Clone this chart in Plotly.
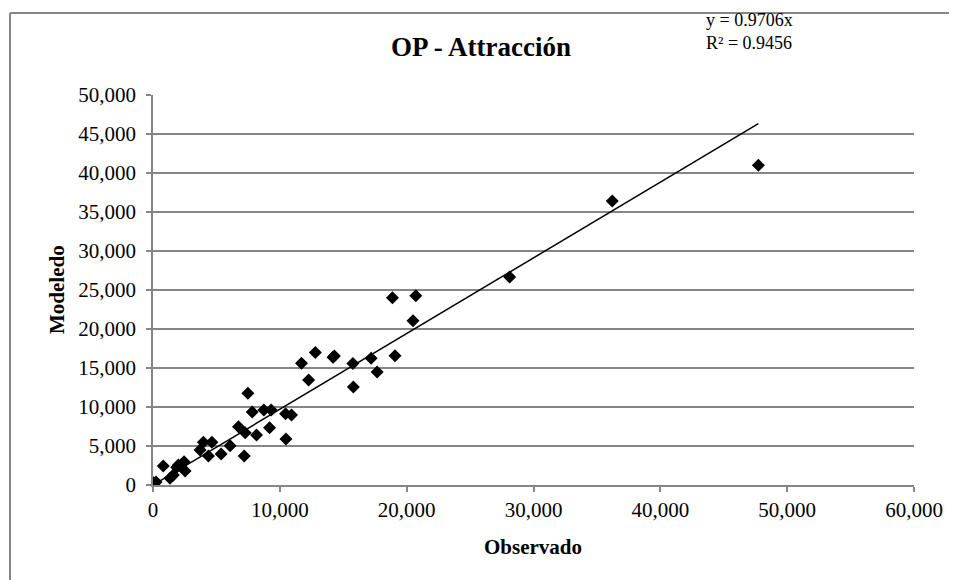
import plotly.graph_objects as go

observado = [50, 120, 240, 810, 1340, 1600, 1870, 2000, 2450, 2530, 3710, 3970, 4640, 4370,
             5370, 6080, 6740, 7270, 7190, 7480, 7820, 8160, 8740, 9190, 9320, 10450, 10480,
             10920, 11710, 12270, 12800, 14190, 14300, 15760, 15800, 17200, 17670, 19080,
             18880, 20720, 20500, 28120, 36210, 47730]
modeledo = [300, 190, 380, 2440, 860, 1280, 2270, 2560, 2990, 1800, 4490, 5470, 5470, 3720,
            3970, 5040, 7470, 6700, 3720, 11760, 9360, 6410, 9620, 7350, 9620, 9140, 5900,
            8970, 15600, 13460, 16990, 16370, 16540, 15580, 12560, 16260, 14490, 16580,
            24000, 24270, 21060, 26670, 36410, 40990]
slope = 0.9706
r2 = 0.9456

xmax = max(observado)
trend_x = [0, xmax]
trend_y = [slope * v for v in trend_x]

OFF = 8  # page body margin
W, H = 957 - OFF, 580 - OFF
# screen-space plot box
X0, X1, Y0, Y1 = 153, 914, 95, 485
ml, mr, mt, mb = X0 - OFF, W - (X1 - OFF), Y0 - OFF, H - (Y1 - OFF)
pw, ph = X1 - X0, Y1 - Y0

def px(x):
    return (x - X0) / pw

def py(y):
    return (Y1 - y) / ph

grey = "#868686"
font = "Liberation Serif, Times New Roman, serif"

fig = go.Figure()
fig.add_trace(go.Scatter(x=observado, y=modeledo, mode="markers",
                         marker=dict(symbol="diamond", size=10, color="black"),
                         showlegend=False, hoverinfo="x+y"))
fig.add_trace(go.Scatter(x=trend_x, y=trend_y, mode="lines",
                         line=dict(color="black", width=1.5), showlegend=False))

border = dict(color=grey, width=2)

fig.update_layout(
    width=W, height=H,
    margin=dict(l=ml, r=mr, t=mt, b=mb, pad=0),
    paper_bgcolor="white", plot_bgcolor="white",
    font=dict(family=font, size=20, color="black"),
    xaxis=dict(range=[0, 60000], dtick=10000, tickformat=",d", showgrid=False,
               zeroline=False, showline=True, linecolor=grey, linewidth=1.5,
               ticks="outside", ticklen=5, tickcolor=grey, tickwidth=1.5,
               tickfont=dict(size=21)),
    yaxis=dict(range=[0, 50000], dtick=5000, tickformat=",d", showgrid=True,
               gridcolor=grey, gridwidth=1.5, zeroline=False, showline=True,
               linecolor=grey, linewidth=1.5, ticks="outside", ticklen=5,
               tickcolor=grey, tickwidth=1.5, tickfont=dict(size=21),
               ticklabelstandoff=6),
    shapes=[
        dict(type="line", xref="paper", yref="paper",
             x0=px(10), x1=px(10), y0=py(13), y1=py(590), line=border),
        dict(type="line", xref="paper", yref="paper",
             x0=px(10), x1=px(957), y0=py(13), y1=py(13), line=border),
    ],
    annotations=[
        dict(text="<b>OP - Attracción</b>", xref="paper", yref="paper",
             x=px(481), y=py(47), showarrow=False, font=dict(size=27),
             xanchor="center", yanchor="middle"),
        dict(text=f"y = {slope}x<br>R² = {r2}", xref="paper", yref="paper",
             x=px(704), y=py(32), showarrow=False, font=dict(size=18),
             xanchor="left", yanchor="middle", align="left"),
        dict(text="<b>Observado</b>", xref="paper", yref="paper",
             x=px(533), y=py(547), showarrow=False, font=dict(size=21),
             xanchor="center", yanchor="middle"),
        dict(text="<b>Modeledo</b>", xref="paper", yref="paper",
             x=px(57), y=py(290), showarrow=False, font=dict(size=21),
             textangle=-90, xanchor="center", yanchor="middle"),
    ],
)

fig.write_html("out.html", config={"displayModeBar": False})
